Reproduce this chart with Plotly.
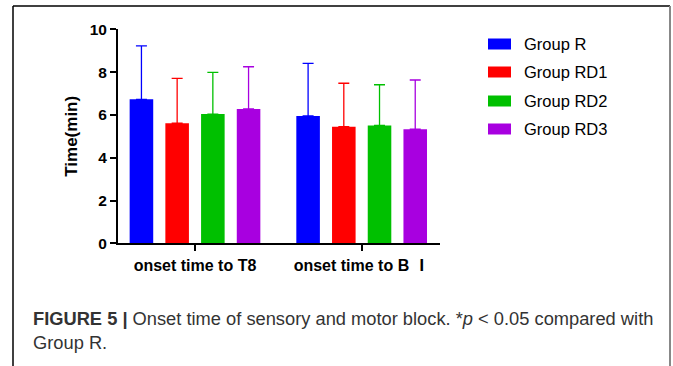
import plotly.graph_objects as go

categories = ["onset time to T8", "onset time to B <span style=\"font-family:'Noto Sans CJK SC'\">Ⅰ</span>"]
groups = ["Group R", "Group RD1", "Group RD2", "Group RD3"]
means = {
    "Group R": [6.73, 5.95],
    "Group RD1": [5.61, 5.45],
    "Group RD2": [6.04, 5.51],
    "Group RD3": [6.28, 5.33],
}
sds = {
    "Group R": [2.50, 2.46],
    "Group RD1": [2.10, 2.03],
    "Group RD2": [1.95, 1.90],
    "Group RD3": [1.97, 2.30],
}
colors = ["#0000FF", "#FF0000", "#00C000", "#A800E0"]
y_ticks = [0, 2, 4, 6, 8, 10]

W, H = 673, 366
fig = go.Figure()
for g, c in zip(groups, colors):
    fig.add_trace(go.Bar(
        name=g, x=categories, y=means[g], marker=dict(color=c, line=dict(width=0)),
        error_y=dict(type="data", symmetric=False, array=sds[g],
                     arrayminus=[0] * len(categories), color=c, thickness=1.3, width=5.5),
        showlegend=False,
    ))

fig.update_layout(
    template="none",
    width=W, height=H, margin=dict(l=0, r=0, t=0, b=0, pad=0), autosize=False,
    paper_bgcolor="white", plot_bgcolor="white",
    barmode="group", bargap=0.143, bargroupgap=0.34,
    font=dict(family="Liberation Sans, Arial, sans-serif", color="black"),
    xaxis=dict(domain=[118 / W, 440 / W], range=[-0.462, 1.47], showline=True, automargin=False,
               linecolor="black", linewidth=2, ticks="outside", ticklen=6, tickwidth=2,
               tickcolor="black", showgrid=False, zeroline=False,
               tickfont=dict(size=16, weight="bold")),
    yaxis=dict(domain=[1 - 243.3 / H, 1 - 29.3 / H], range=[0, 10], tickvals=y_ticks,
               automargin=False,
               showline=True, linecolor="black", linewidth=2, ticks="outside", ticklen=6,
               tickwidth=2, tickcolor="black", showgrid=False, zeroline=False,
               tickfont=dict(size=15.5, weight="bold"),
               title=dict(text="Time(min)", font=dict(size=17, weight="bold"), standoff=8)),
)

# legend drawn manually
leg_y = [44, 72, 101, 129]
for g, c, yy in zip(groups, colors, leg_y):
    fig.add_shape(type="rect", xref="paper", yref="paper",
                  x0=488 / W, x1=511 / W, y0=1 - (yy + 5.5) / H, y1=1 - (yy - 5.5) / H,
                  fillcolor=c, line=dict(width=0))
    fig.add_annotation(xref="paper", yref="paper", x=522 / W, y=1 - yy / H,
                       xanchor="left", yanchor="middle", text=g, showarrow=False,
                       font=dict(size=16.5, color="black"))

# frame
fig.add_shape(type="line", xref="paper", yref="paper", x0=13 / W, x1=13 / W, y0=0, y1=1 - 6 / H,
              line=dict(color="black", width=1.5))
fig.add_shape(type="line", xref="paper", yref="paper", x0=13 / W, x1=670 / W, y0=1 - 6 / H, y1=1 - 6 / H,
              line=dict(color="black", width=1.5))
fig.add_shape(type="line", xref="paper", yref="paper", x0=670 / W, x1=670 / W, y0=0, y1=1 - 6 / H,
              line=dict(color="#888888", width=2))

# caption
fig.add_annotation(xref="paper", yref="paper", x=31 / W, y=1 - 306 / H, xanchor="left", yanchor="top",
                   align="left", showarrow=False,
                   text="<b>FIGURE 5 |</b> Onset time of sensory and motor block. *<i>p</i> &lt; 0.05 compared with<br>Group R.",
                   font=dict(size=18.3, color="#333333"))

fig.write_html("out.html", config={"responsive": False, "displayModeBar": False},
               post_script="document.body.style.margin='0';document.body.style.overflow='hidden';")
